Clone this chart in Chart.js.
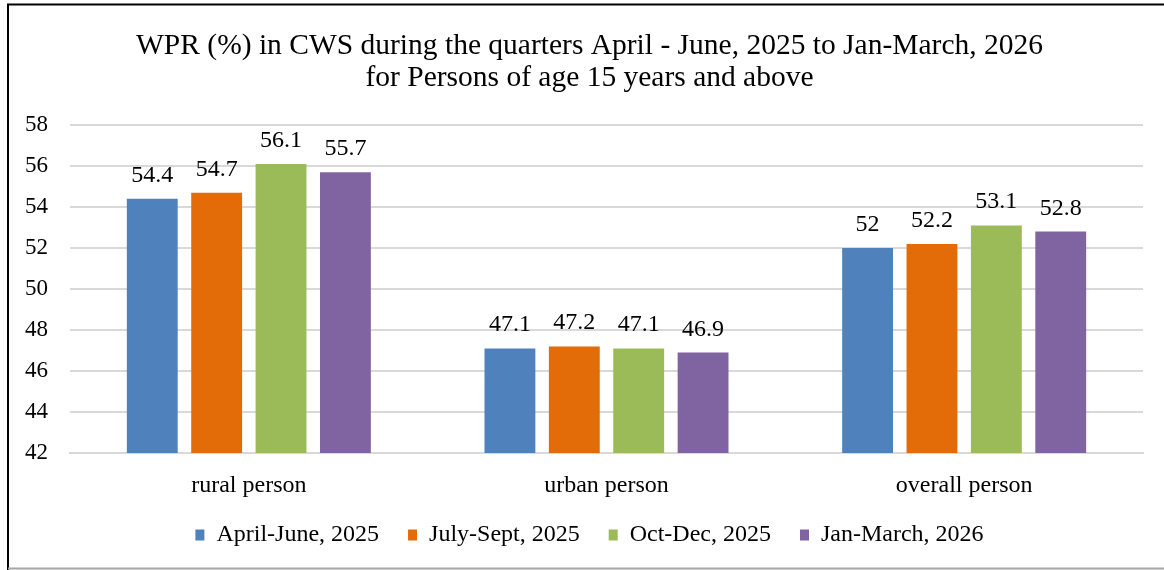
<!DOCTYPE html>
<html>
<head>
<meta charset="utf-8">
<script src="https://cdn.jsdelivr.net/npm/chart.js@4"></script>
<style>
  html, body { margin: 0; padding: 0; background: #ffffff; }
  #wrap { width: 1164px; height: 570px; position: relative; }
</style>
</head>
<body>
<div id="wrap"><canvas id="chart" width="1164" height="570"></canvas></div>
<script>
// data
const categories = ['rural person', 'urban person', 'overall person'];
const seriesNames = ['April-June, 2025', 'July-Sept, 2025', 'Oct-Dec, 2025', 'Jan-March, 2026'];
const aprJun2025 = [54.4, 47.1, 52.0];
const julSep2025 = [54.7, 47.2, 52.2];
const octDec2025 = [56.1, 47.1, 53.1];
const janMar2026 = [55.7, 46.9, 52.8];
const seriesColors = ['#4F81BD', '#E36C09', '#9BBB59', '#8064A2'];

const FONT = "'Liberation Serif', 'Times New Roman', serif";

// value labels above each bar
const barLabels = {
    id: 'barlabels',
    afterDatasetsDraw: function (chart) {
        var ctx = chart.ctx;
        ctx.save();
        ctx.font = '24px ' + FONT;
        ctx.fillStyle = '#000000';
        ctx.textAlign = 'center';
        ctx.textBaseline = 'alphabetic';
        chart.data.datasets.forEach(function (ds, i) {
            var meta = chart.getDatasetMeta(i);
            meta.data.forEach(function (bar, j) {
                ctx.fillText(String(ds.data[j]), bar.x, bar.y - 17);
            });
        });
        ctx.restore();
    }
};

// frame lines round the chart, like the picture
const frame = {
    id: 'frame',
    afterDraw: function (chart) {
        var ctx = chart.ctx;
        ctx.save();
        ctx.lineWidth = 2;
        ctx.strokeStyle = '#000000';
        ctx.beginPath();
        ctx.moveTo(8, 570);
        ctx.lineTo(8, 4.5);
        ctx.lineTo(1164, 4.5);
        ctx.stroke();
        ctx.strokeStyle = '#a6a6a6';
        ctx.beginPath();
        ctx.moveTo(8, 568.5);
        ctx.lineTo(1164, 568.5);
        ctx.stroke();
        ctx.restore();
    }
};

function makeSet(label, values, color) {
    return {
        label: label,
        data: values,
        backgroundColor: color,
        borderWidth: 0,
        categoryPercentage: 0.72,
        barPercentage: 0.79
    };
}

const config = {
    type: 'bar',
    data: {
        labels: categories,
        datasets: [
            makeSet(seriesNames[0], aprJun2025, seriesColors[0]),
            makeSet(seriesNames[1], julSep2025, seriesColors[1]),
            makeSet(seriesNames[2], octDec2025, seriesColors[2]),
            makeSet(seriesNames[3], janMar2026, seriesColors[3])
        ]
    },
    options: {
        responsive: false,
        animation: false,
        layout: {
            padding: { left: 36, right: 21, top: 0, bottom: 13 }
        },
        plugins: {
            title: {
                display: true,
                text: ['WPR (%) in CWS during the quarters April - June, 2025 to Jan-March, 2026',
                       'for Persons of age 15 years and above'],
                color: '#000000',
                font: { family: FONT, size: 29.5, weight: 'normal', lineHeight: 1.085 },
                padding: { top: 30, bottom: 31 }
            },
            legend: {
                position: 'bottom',
                labels: {
                    color: '#000000',
                    font: { family: FONT, size: 24 },
                    boxWidth: 9,
                    boxHeight: 11,
                    padding: 29
                }
            },
            tooltip: { enabled: false }
        },
        scales: {
            x: {
                grid: { display: false, drawTicks: false },
                border: { color: '#d9d9d9', width: 2 },
                // mirrored with negative padding: labels sit below the axis but are not clipped
                ticks: { color: '#000000', font: { family: FONT, size: 24 }, mirror: true, padding: -47.5 },
                afterFit: function (scale) { scale.height = 41; }
            },
            y: {
                min: 42,
                max: 58,
                grid: { color: '#d9d9d9', lineWidth: 2, drawTicks: false },
                border: { display: false },
                ticks: { stepSize: 2, color: '#000000', font: { family: FONT, size: 23 },
                         mirror: true, padding: -45 },
                afterFit: function (scale) { scale.width = 34; }
            }
        }
    },
    plugins: [barLabels, frame]
};

new Chart(document.getElementById('chart'), config);
</script>
</body>
</html>
